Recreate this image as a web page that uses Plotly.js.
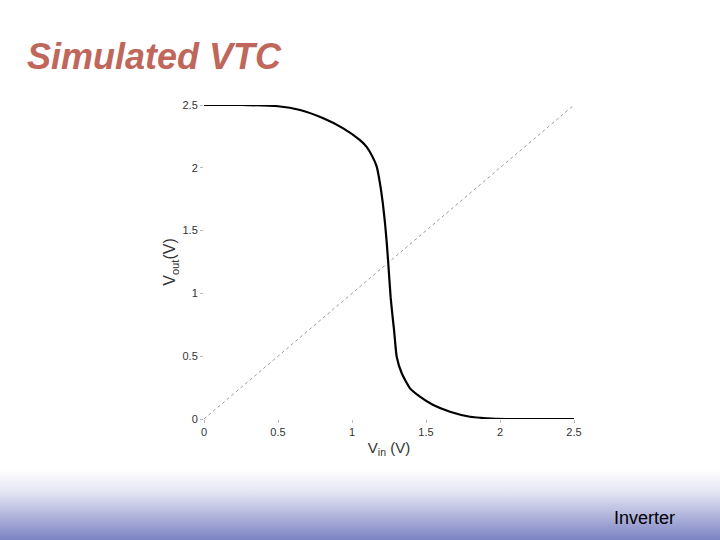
<!DOCTYPE html>
<html>
<head>
<meta charset="utf-8">
<script src="https://cdn.plot.ly/plotly-3.0.1.min.js"></script>
<style>
html, body { margin:0; padding:0; }
#chart { width:720px; height:540px;
  background: linear-gradient(to bottom, #ffffff 0px, #ffffff 470px, #e4e5f2 492px, #c2c5e3 508px, #9ea3d3 524px, #7c83c3 540px); }
</style>
</head>
<body>
<div id="chart"></div>
<script>
// VTC data
const vin  = [0, 0.25, 0.5, 0.649, 0.806, 0.941, 1.054, 1.100, 1.140, 1.167, 1.189, 1.208, 1.223, 1.235, 1.245, 1.261, 1.272, 1.284, 1.302, 1.336, 1.392, 1.459, 1.549, 1.662, 1.797, 1.91, 2.045, 2.25, 2.5];
const vout = [2.5, 2.5, 2.49, 2.46, 2.394, 2.314, 2.22, 2.165, 2.085, 2.009, 1.876, 1.72, 1.56, 1.40, 1.24, 0.97, 0.84, 0.709, 0.496, 0.364, 0.244, 0.178, 0.111, 0.058, 0.018, 0.006, 0.0, 0.0, 0.0];
const diagX = [0, 2.5];
const diagY = [0, 2.5];
const xTicks = [0, 0.5, 1, 1.5, 2, 2.5];
const xTickText = ['0', '0.5', '1', '1.5', '2', '2.5'];
const yTicks = [0, 0.5, 1, 1.5, 2, 2.5];
const yTickText = ['0', '0.5', '1', '1.5', '2', '2.5'];

const traces = [
  { x: diagX, y: diagY, mode: 'lines', line: { color: '#9a9a9a', width: 1, dash: 'dot' }, hoverinfo: 'skip' },
  { x: vin, y: vout, mode: 'lines', line: { color: '#000000', width: 2.2, shape: 'spline', smoothing: 0.5 } }
];

const titleFont = 'Liberation Sans, Arial, sans-serif';
const layout = {
  width: 720, height: 540,
  paper_bgcolor: 'rgba(0,0,0,0)', plot_bgcolor: 'rgba(0,0,0,0)',
  showlegend: false,
  margin: { l: 204, r: 146, t: 105, b: 121, pad: 0 },
  font: { family: 'Liberation Sans, Arial, sans-serif', color: '#333333', size: 11 },
  xaxis: {
    range: [0, 2.5], tickvals: xTicks, ticktext: xTickText,
    showgrid: false, zeroline: false, showline: false,
    ticks: 'outside', ticklen: 3, tickcolor: '#bbbbbb',
    tickfont: { size: 11, color: '#333333' },
    title: { text: 'V<sub>in</sub> (V)', font: { size: 15, color: '#333333' }, standoff: 5 },
    automargin: false
  },
  yaxis: {
    range: [0, 2.5], tickvals: yTicks, ticktext: yTickText,
    showgrid: false, zeroline: false, showline: false,
    ticks: 'outside', ticklen: 3, tickcolor: '#bbbbbb',
    tickfont: { size: 11, color: '#333333' },
    title: { text: 'V<sub>out</sub>(V)', font: { size: 16, color: '#333333' }, standoff: 2 },
    automargin: false
  },
  annotations: [
    { text: '<b><i>Simulated VTC</i></b>', xref: 'paper', yref: 'paper', x: -0.4838, y: 1.1549,
      xanchor: 'left', yanchor: 'middle', showarrow: false,
      font: { family: titleFont, size: 36, color: '#c0675c' } },
    { text: 'Inverter', xref: 'paper', yref: 'paper', x: 1.103, y: -0.315,
      xanchor: 'left', yanchor: 'middle', showarrow: false,
      font: { family: 'Liberation Sans Narrow, Liberation Sans, Arial, sans-serif', size: 18, color: '#000000' } }
  ]
};

Plotly.newPlot('chart', traces, layout, { displayModeBar: false, staticPlot: true });
</script>
</body>
</html>
